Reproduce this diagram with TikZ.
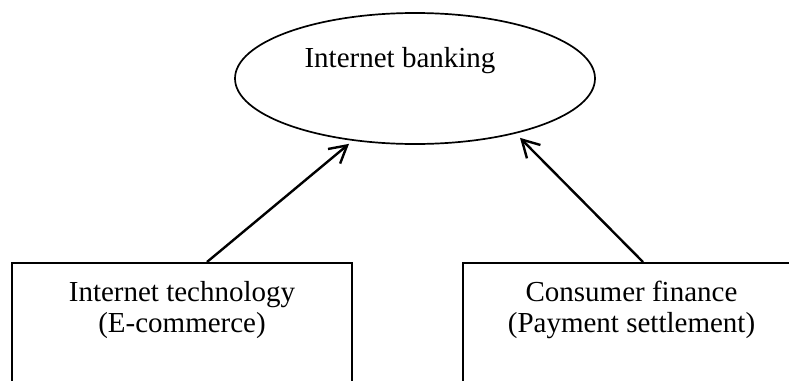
\documentclass[tikz,border=0pt]{standalone}
\usepackage{fontspec}
\setmainfont{Liberation Serif}
\usetikzlibrary{shapes.geometric,arrows.meta}

\tikzset{
  goal/.style={ellipse, draw, line width=1.7pt, minimum width=360pt, minimum height=131pt, inner sep=0pt},
  source/.style={rectangle, draw, line width=2.2pt, minimum height=170pt, anchor=north, inner sep=0pt},
  caption/.style={font=\fontsize{29}{31}\selectfont, align=center, inner sep=0pt, anchor=base},
  feed/.style={line width=2.4pt, -{Straight Barb[length=17pt, width=19pt, line width=2.4pt]}}
}

\begin{document}
\begin{tikzpicture}[x=1pt, y=-1pt]
  \useasboundingbox (0,0) rectangle (789,380);
  \clip (0,0) rectangle (789,380);

  % target concept
  \node[goal] (bank) at (415,78.5) {};
  \node[caption] (bankText) at (400,67) {Internet banking};

  % the two contributing fields (base anchor sits on the last line)
  \node[source, minimum width=340pt] (tech) at (182,262) {};
  \node[caption] (techText) at (182,332) {Internet technology\\(E-commerce)};

  \node[source, minimum width=337pt] (fin) at (631.5,262) {};
  \node[caption] (finText) at (631.5,332) {Consumer finance\\(Payment settlement)};

  % influence arrows
  \draw[feed] ([xshift=25pt]tech.north) -- ([xshift=-66pt, yshift=1pt]bank.south);
  \draw[feed] ([xshift=11.5pt]fin.north) -- ([xshift=105pt, yshift=7pt]bank.south);
\end{tikzpicture}
\end{document}
